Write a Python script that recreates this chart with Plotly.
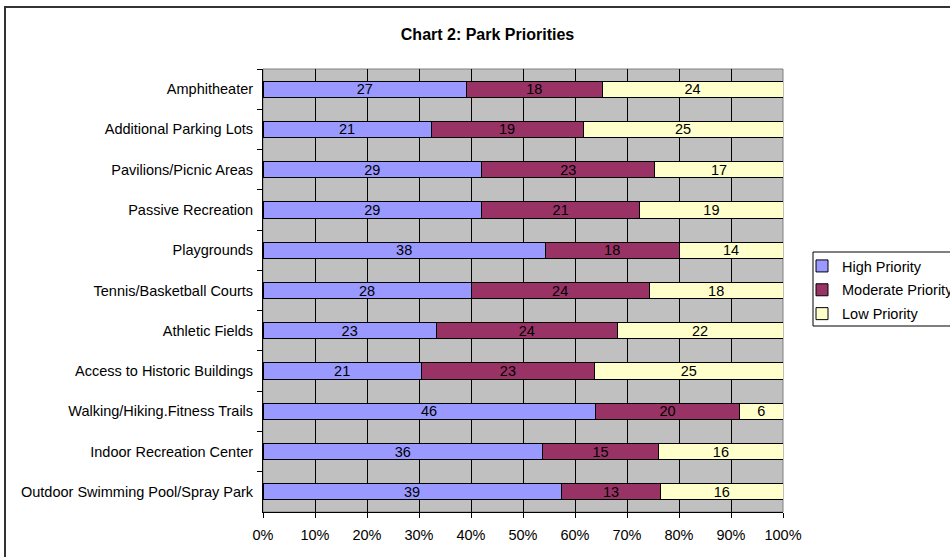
import plotly.graph_objects as go

categories = [
    "Amphitheater",
    "Additional Parking Lots",
    "Pavilions/Picnic Areas",
    "Passive Recreation",
    "Playgrounds",
    "Tennis/Basketball Courts",
    "Athletic Fields",
    "Access to Historic Buildings",
    "Walking/Hiking.Fitness Trails",
    "Indoor Recreation Center",
    "Outdoor Swimming Pool/Spray Park",
]
high = [27, 21, 29, 29, 38, 28, 23, 21, 46, 36, 39]
moderate = [18, 19, 23, 21, 18, 24, 24, 23, 20, 15, 13]
low = [24, 25, 17, 19, 14, 18, 22, 25, 6, 16, 16]
series_names = ["High Priority", "Moderate Priority", "Low Priority"]
series_colors = ["#9999FF", "#993366", "#FFFFCC"]
x_tickvals = [0, 10, 20, 30, 40, 50, 60, 70, 80, 90, 100]
x_ticktext = ["0%", "10%", "20%", "30%", "40%", "50%", "60%", "70%", "80%", "90%", "100%"]
title_text = "Chart 2: Park Priorities"

FONT = "Liberation Sans, Arial, sans-serif"
FS = 14.5

fig = go.Figure()
for name, vals, col in zip(series_names, [high, moderate, low], series_colors):
    fig.add_trace(go.Bar(
        y=categories, x=vals, name=name, orientation="h",
        marker=dict(color=col, line=dict(color="#000000", width=1)),
        text=[str(v) for v in vals], textposition="inside", textangle=0,
        insidetextanchor="middle",
        textfont=dict(family=FONT, size=FS, color="#000000"),
        legendgroup=name,
        hoverinfo="skip",
    ))

L, R, T, B = 263, 783, 69, 512
W, H = 950, 557
pw, ph = R - L, B - T

def px(x):
    return (x - L) / pw

def py(y):
    return 1 - (y - T) / ph

fig.update_layout(
    width=W, height=H,
    margin=dict(l=L, r=W - R, t=T, b=H - B, pad=0, autoexpand=False),
    barmode="stack", barnorm="percent", bargap=0.6,
    paper_bgcolor="#FFFFFF", plot_bgcolor="#C0C0C0",
    font=dict(family=FONT, size=FS, color="#000000"),
    uniformtext=dict(minsize=FS, mode="show"),
    title=dict(text="<b>" + title_text + "</b>", x=487.5 / W, xanchor="center",
               y=1 - 34 / H, yanchor="middle", yref="container",
               font=dict(family=FONT, size=16, color="#000000")),
    xaxis=dict(range=[0, 100], tickvals=x_tickvals, ticktext=x_ticktext,
               showgrid=True, gridcolor="#000000", gridwidth=1,
               zeroline=False, showline=True, linecolor="#000000", linewidth=1,
               ticks="outside", ticklen=5, tickcolor="#000000",
               ticklabelstandoff=5,
               tickfont=dict(family=FONT, size=FS, color="#000000")),
    yaxis=dict(autorange="reversed", type="category", tickson="boundaries",
               showgrid=False, zeroline=False, showline=True,
               linecolor="#000000", linewidth=1,
               ticks="outside", ticklen=5, tickcolor="#000000",
               ticklabelstandoff=6,
               tickfont=dict(family=FONT, size=FS, color="#000000")),
    legend=dict(x=px(802), y=py(250), xanchor="left", yanchor="top",
                bgcolor="rgba(0,0,0,0)", borderwidth=0,
                traceorder="grouped", tracegroupgap=2, itemwidth=30,
                font=dict(family=FONT, size=FS, color="#000000")),
    showlegend=True,
    shapes=[
        dict(type="rect", xref="paper", yref="paper", x0=0, x1=1, y0=0, y1=1,
             line=dict(color="#808080", width=1), fillcolor="rgba(0,0,0,0)",
             layer="between"),
        dict(type="rect", xref="paper", yref="paper",
             x0=px(5), x1=px(1200), y0=py(800), y1=py(7),
             line=dict(color="#333333", width=2), fillcolor="rgba(0,0,0,0)",
             layer="above"),
        dict(type="rect", xref="paper", yref="paper",
             x0=px(813), x1=px(1000), y0=py(326), y1=py(252),
             line=dict(color="#000000", width=1), fillcolor="rgba(0,0,0,0)",
             layer="above"),
    ],
)

fig.write_html("out.html", config={"displayModeBar": False},
               post_script="document.body.style.margin='0px';document.body.style.overflow='hidden';")
